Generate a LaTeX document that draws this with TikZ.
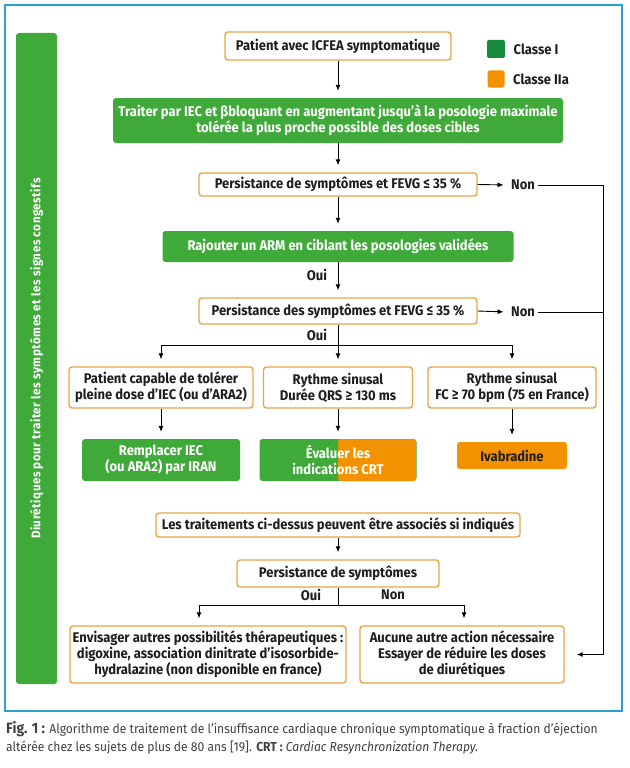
\documentclass[tikz,border=0pt]{standalone}
\usepackage{fontspec}
\setmainfont{Fira Sans}[FakeStretch=0.93]
\newfontfamily\barfont{Fira Sans}[FakeStretch=0.93, LetterSpace=4]
\usetikzlibrary{arrows.meta,positioning}
\definecolor{cgreen}{HTML}{3FAA3A}
\definecolor{cdkgreen}{HTML}{17893D}
\definecolor{corange}{HTML}{F39200}
\definecolor{cborder}{HTML}{E9A545}
\definecolor{cframe}{HTML}{2B9FCF}
\definecolor{ctext}{HTML}{1E1E1E}
\newcommand{\boxfont}{\bfseries\fontsize{14}{16}\selectfont}
\tikzset{
  qbox/.style={draw=cborder, line width=1.4pt, rounded corners=3pt, fill=white, text=ctext, align=center, inner sep=0pt, font=\boxfont},
  gbox/.style={fill=cgreen, rounded corners=3pt, text=white, align=center, inner sep=0pt, font=\boxfont},
  obox/.style={fill=corange, rounded corners=3pt, text=ctext, align=center, inner sep=0pt, font=\boxfont},
  lbl/.style={text=ctext, font=\boxfont},
  link/.style={line width=0.9pt, draw=black},
  arr/.style={link, -{Latex[length=6pt,width=5pt]}, shorten >=7pt},
}
\begin{document}
\begin{tikzpicture}[x=1pt,y=-1pt]
    \useasboundingbox (0,0) rectangle (629,768);
    \draw[cframe, line width=2.4pt] (5,5) rectangle (622,711);
    \node[fill=cgreen, rounded corners=3pt, minimum width=41pt, minimum height=651pt, inner sep=0pt] at (36.5,358.5) (bar) {};
    \node[rotate=90, text=white, font=\barfont\bfseries\fontsize{12.5}{14}\selectfont] at (bar.center) (bartext) {Diurétiques pour traiter les symptômes et les signes congestifs};

    \node[fill=cdkgreen, rounded corners=2pt, minimum size=18pt, inner sep=0pt] at (496,49) (lgreen) {};
    \node[lbl, right=5pt of lgreen] (lgreentext) {Classe I};
    \node[fill=corange, rounded corners=2pt, minimum size=17pt, inner sep=0pt] at (496,79) (lorange) {};
    \node[lbl, right=5pt of lorange] (lorangetext) {Classe IIa};

    \node[qbox, minimum width=226pt, minimum height=28pt] at (338,46) (start) {Patient avec ICFEA symptomatique};
    \node[gbox, minimum width=450pt, minimum height=45pt] at (338,120.5) (treat) {Traiter par IEC et βbloquant en augmentant jusqu'à la posologie maximale\\tolérée la plus proche possible des doses cibles};
    \node[qbox, minimum width=278pt, minimum height=23pt] at (338,184.5) (persA) {Persistance de symptômes et FEVG ≤ 35 \%};
    \node[lbl] at (523,185) (nonA) {Non};
    \node[gbox, minimum width=351pt, minimum height=31pt] at (338,246.5) (arm) {Rajouter un ARM en ciblant les posologies validées};
    \node[lbl] at (317,275) (ouiA) {Oui};
    \node[qbox, minimum width=278pt, minimum height=26pt] at (338,311) (persB) {Persistance des symptômes et FEVG ≤ 35 \%};
    \node[lbl] at (523,312) (nonB) {Non};
    \node[lbl] at (317,335) (ouiB) {Oui};

    \node[qbox, minimum width=184pt, minimum height=41pt] at (161,387.5) (iec) {Patient capable de tolérer\\pleine dose d'IEC (ou d'ARA2)};
    \node[qbox, minimum width=149pt, minimum height=41pt] at (338,387.5) (qrs) {Rythme sinusal\\Durée QRS ≥ 130 ms};
    \node[qbox, minimum width=168pt, minimum height=41pt] at (512,387.5) (fc) {Rythme sinusal\\FC ≥ 70 bpm (75 en France)};

    \node[gbox, minimum width=158pt, minimum height=42pt] at (161,460) (iran) {Remplacer IEC\\(ou ARA2) par IRAN};
    \node[gbox, minimum width=157pt, minimum height=42pt, path picture={
        \fill[corange] (path picture bounding box.south) rectangle (path picture bounding box.north east);}] at (338,460) (crt) {Évaluer les\\indications CRT};
    \node[obox, minimum width=110pt, minimum height=27pt] at (512,455.5) (ivab) {Ivabradine};

    \node[qbox, minimum width=364pt, minimum height=24pt] at (338,525) (assoc) {Les traitements ci-dessus peuvent être associés si indiqués};
    \node[qbox, minimum width=202pt, minimum height=27pt] at (338,573.5) (persC) {Persistance de symptômes};
    \node[lbl] at (311,595) (ouiC) {Oui};
    \node[lbl] at (393,595) (nonC) {Non};
    \node[qbox, minimum width=276pt, minimum height=57pt] at (208,654.5) (other) {Envisager autres possibilités thérapeutiques :\\digoxine, association dinitrate d'isosorbide-\\hydralazine (non disponible en france)};
    \node[qbox, minimum width=204pt, minimum height=57pt] at (462,654.5) (none) {Aucune autre action nécessaire\\Essayer de réduire les doses\\de diurétiques};

    \coordinate (splitA) at (338,345);
    \coordinate (splitB) at (338,605);
    \coordinate (corner) at (603,654.5);

    \draw[arr] (start) -- (treat);
    \draw[arr] (treat) -- (persA);
    \draw[arr] (persA) -- (arm);
    \draw[arr] (arm) -- (persB);
    \draw[arr, shorten >=4pt] (persA.east) -- (nonA.west);
    \draw[arr, shorten >=4pt] (persB.east) -- (nonB.west);
    \draw[arr, shorten >=12pt] (nonA.east) -| (corner) -- (none.east);
    \draw[link] (nonB.east) -- (nonB.east -| corner);

    \draw[link] (persB) -- (splitA);
    \draw[arr] (splitA) -| (iec.north);
    \draw[arr] (splitA) -- (qrs.north);
    \draw[arr] (splitA) -| (fc.north);
    \draw[arr] (iec.south) -- (iec.south |- iran.north);
    \draw[arr] (qrs) -- (crt);
    \draw[arr] (fc) -- (ivab);

    \draw[arr] (assoc) -- (persC);
    \draw[link] (persC) -- (splitB);
    \draw[arr] (splitB) -| ([xshift=-9pt]other.north);
    \draw[arr] (splitB) -| ([xshift=2pt]none.north);

    \node[anchor=north west, align=left, inner sep=0pt, text=ctext!85, font=\fontsize{13}{18}\selectfont] at (6,721) (caption) {{\bfseries\fontsize{15}{18}\selectfont Fig. 1 :} Algorithme de traitement de l'insuffisance cardiaque chronique symptomatique à fraction d'éjection\\altérée chez les sujets de plus de 80 ans [19]. \textbf{CRT :} \textit{Cardiac Resynchronization Therapy.}};
\end{tikzpicture}
\end{document}
